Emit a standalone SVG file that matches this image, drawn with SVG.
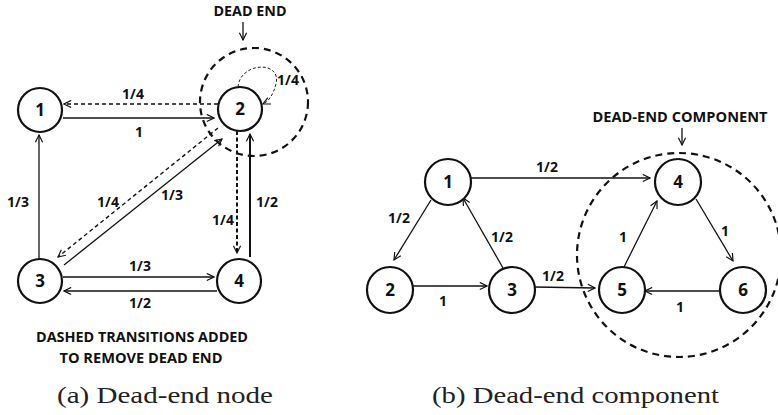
<svg xmlns="http://www.w3.org/2000/svg" width="778" height="415" viewBox="0 0 778 415">
<defs>
<style>
.node{fill:#fff;stroke:#111;stroke-width:2.2}
.num{font-family:"Open Sans","Liberation Sans",sans-serif;font-weight:bold;font-size:17px;fill:#111;text-anchor:middle}
.lbl{font-family:"Open Sans","Liberation Sans",sans-serif;font-weight:bold;font-size:14px;fill:#111;text-anchor:middle}
.hdr{font-family:"Open Sans","Liberation Sans",sans-serif;font-weight:bold;font-size:14px;fill:#111;text-anchor:middle}
.cap{font-family:"Liberation Serif","DejaVu Serif",serif;font-size:23px;fill:#222}
.e{fill:none;stroke:#111;stroke-width:1.3;marker-end:url(#ah)}
.eb{fill:none;stroke:#111;stroke-width:2;marker-end:url(#ah)}
.d{fill:none;stroke:#111;stroke-width:1.4;stroke-dasharray:4 3;marker-end:url(#ah)}
.db{fill:none;stroke:#111;stroke-width:2;stroke-dasharray:4 2.5;marker-end:url(#ah)}
.dt{fill:none;stroke:#222;stroke-width:1;stroke-dasharray:3 2;marker-end:url(#ah)}
.ring{fill:none;stroke:#111;stroke-width:2.2;stroke-dasharray:7 5}
</style>
<marker id="ah" viewBox="0 0 10 10" refX="9" refY="5" markerWidth="9" markerHeight="9" markerUnits="userSpaceOnUse" orient="auto">
<path d="M1,1 L9,5 L1,9" fill="none" stroke="#111" stroke-width="1.3"/>
</marker>
</defs>
<rect width="778" height="415" fill="#fff"/>

<g id="annotations-a">
<circle class="ring" cx="254" cy="102" r="54"/>
<text class="hdr" x="250" y="16" textLength="73" lengthAdjust="spacingAndGlyphs">DEAD END</text>
<line class="e" x1="243" y1="22" x2="243" y2="40"/>
<text class="hdr" x="142" y="342" textLength="212" lengthAdjust="spacingAndGlyphs">DASHED TRANSITIONS ADDED</text>
<text class="hdr" x="141" y="363" textLength="163" lengthAdjust="spacingAndGlyphs">TO REMOVE DEAD END</text>
<text class="cap" x="57" y="403" textLength="216" lengthAdjust="spacingAndGlyphs">(a) Dead-end node</text>
</g>

<g id="connectors-a">
<line class="e" x1="63" y1="118" x2="214" y2="118"/>
<line class="d" x1="218" y1="104" x2="64" y2="104"/>
<line class="e" x1="39" y1="259" x2="39" y2="135"/>
<line class="e" x1="63" y1="277" x2="214" y2="277"/>
<line class="e" x1="217" y1="291" x2="64" y2="291"/>
<line class="db" x1="237" y1="131" x2="237" y2="253"/>
<line class="eb" x1="250" y1="257" x2="250" y2="134"/>
<line class="e" x1="64" y1="265" x2="222" y2="139"/>
<line class="d" x1="218" y1="128" x2="58" y2="257"/>
<path class="dt" d="M238,87 C240,62 282,60 276,84 C273,95 269,101 263,104"/>
<text class="lbl" x="133" y="99">1/4</text>
<text class="lbl" x="139" y="137">1</text>
<text class="lbl" x="288" y="85">1/4</text>
<text class="lbl" x="18" y="207">1/3</text>
<text class="lbl" x="108" y="207">1/4</text>
<text class="lbl" x="172" y="200">1/3</text>
<text class="lbl" x="223" y="225">1/4</text>
<text class="lbl" x="267" y="207">1/2</text>
<text class="lbl" x="140" y="271">1/3</text>
<text class="lbl" x="140" y="308">1/2</text>
</g>

<g id="a-node1"><circle class="node" cx="40" cy="110" r="22"/><text class="num" x="40" y="116">1</text></g>
<g id="a-node2"><circle class="node" cx="240" cy="109" r="22"/><text class="num" x="240" y="115">2</text></g>
<g id="a-node3"><circle class="node" cx="40" cy="281" r="22"/><text class="num" x="40" y="287">3</text></g>
<g id="a-node4"><circle class="node" cx="239" cy="281" r="22"/><text class="num" x="239" y="287">4</text></g>

<g id="annotations-b">
<circle class="ring" cx="679" cy="255" r="102"/>
<text class="hdr" x="680" y="122" textLength="175" lengthAdjust="spacingAndGlyphs">DEAD-END COMPONENT</text>
<line class="e" x1="682" y1="128" x2="682" y2="145"/>
<text class="cap" x="432" y="403" textLength="287" lengthAdjust="spacingAndGlyphs">(b) Dead-end component</text>
</g>

<g id="connectors-b">
<line class="e" x1="471" y1="178" x2="650" y2="178"/>
<line class="e" x1="431" y1="200" x2="394" y2="260"/>
<line class="e" x1="503" y1="268" x2="463" y2="198"/>
<line class="e" x1="413" y1="286" x2="487" y2="286"/>
<line class="e" x1="535" y1="287" x2="595" y2="288"/>
<line class="e" x1="624" y1="267" x2="657" y2="201"/>
<line class="e" x1="696" y1="199" x2="733" y2="261"/>
<line class="e" x1="720" y1="291" x2="645" y2="291"/>
<text class="lbl" x="547" y="172">1/2</text>
<text class="lbl" x="399" y="223">1/2</text>
<text class="lbl" x="502" y="242">1/2</text>
<text class="lbl" x="443" y="306">1</text>
<text class="lbl" x="553" y="281">1/2</text>
<text class="lbl" x="623" y="242">1</text>
<text class="lbl" x="725" y="236">1</text>
<text class="lbl" x="680" y="312">1</text>
</g>

<g id="b-node1"><circle class="node" cx="448" cy="182" r="23"/><text class="num" x="448" y="188">1</text></g>
<g id="b-node2"><circle class="node" cx="390" cy="290" r="23"/><text class="num" x="390" y="296">2</text></g>
<g id="b-node3"><circle class="node" cx="512" cy="290" r="23"/><text class="num" x="512" y="296">3</text></g>
<g id="b-node4"><circle class="node" cx="678" cy="182" r="23"/><text class="num" x="678" y="188">4</text></g>
<g id="b-node5"><circle class="node" cx="622" cy="290" r="23"/><text class="num" x="622" y="296">5</text></g>
<g id="b-node6"><circle class="node" cx="743" cy="290" r="23"/><text class="num" x="743" y="296">6</text></g>
</svg>
